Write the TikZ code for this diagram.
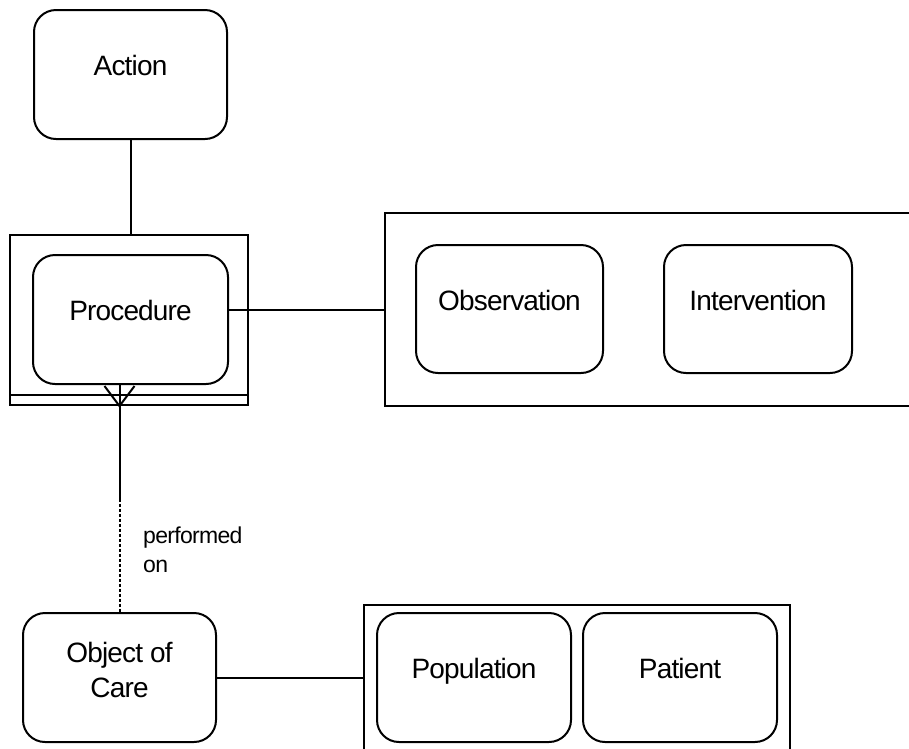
\documentclass[tikz,border=0pt]{standalone}
\usepackage{fontspec}
\setmainfont{Liberation Sans}[LetterSpace=-3]
\usetikzlibrary{calc}

\begin{document}
\begin{tikzpicture}[x=1pt,y=-1pt]

	\tikzstyle{entity}=[draw,line width=2pt,rounded corners=22pt,minimum width=194pt,minimum height=129pt,inner sep=0pt,text height=20pt,text depth=18pt,align=center,font=\fontsize{28}{35}\selectfont]
	\tikzstyle{groupbox}=[draw,line width=2pt,inner sep=0pt]
	\tikzstyle{rel}=[line width=2pt]
	\tikzstyle{dotrel}=[line width=2pt,dash pattern=on 3pt off 2pt]

	\clip (0,0) rectangle (909,748);

	% containers (the two on the right run off the page)
	\node[groupbox,minimum width=238pt,minimum height=170pt] (procgrp) at (129,320) {};
	\node[groupbox,minimum width=575pt,minimum height=193pt] (topgrp) at (672.5,309.5) {};
	\node[groupbox,minimum width=426pt,minimum height=195pt] (botgrp) at (577,702.5) {};

	\node[entity,minimum width=193pt] (action) at (130.5,74.5) {Action};
	\node[entity,minimum width=195pt] (proc) at (130.5,319.5) {Procedure};
	\node[entity,minimum width=187pt,minimum height=128pt] (obs) at (509.5,309) {Observation};
	\node[entity,minimum width=188pt,minimum height=128pt] (interv) at (758,309) {Intervention};
	\node[entity,minimum width=193pt,text height=57pt] (ocare) at (119.5,677.5) {Object of\\Care};
	\node[entity] (pop) at (474,677.5) {Population};
	\node[entity] (patient) at (680,677.5) {Patient};

	\draw[rel] ([yshift=11pt]procgrp.south west) -- ([yshift=11pt]procgrp.south east);

	\draw[rel] (action) -- (action |- procgrp.north);
	\draw[rel] (proc.east |- topgrp.west) -- (topgrp.west);
	\draw[rel] (ocare) -- (ocare -| botgrp.west);

	% crow's foot and performed on
	\coordinate (foot) at (ocare.north |- procgrp.south);
	\coordinate (ftop) at (ocare.north |- proc.south);
	\coordinate (brk) at ($(ftop)!0.5!(ocare.north)$);
	\draw[rel] ($(foot)+(-15,-20)$) -- (foot) -- ($(foot)+(15,-20)$);
	\draw[rel] (ftop) -- (brk);
	\draw[dotrel] (brk) -- (ocare.north);
	\node[anchor=north west,inner sep=0pt,align=left,font=\fontsize{23}{29}\selectfont] (lblon) at (143,527) {performed\\on};

\end{tikzpicture}
\end{document}
